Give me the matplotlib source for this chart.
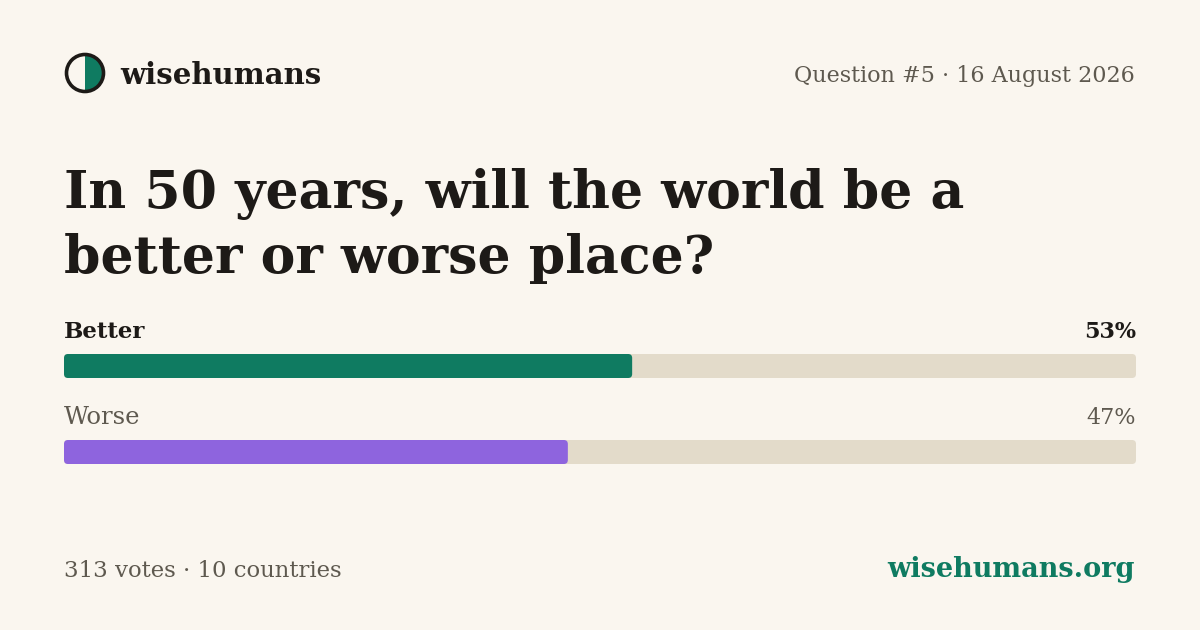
import matplotlib
matplotlib.use("Agg")
import matplotlib.pyplot as plt
from matplotlib.patches import FancyBboxPatch, Circle, Wedge

# ---- data ----
brand = "wisehumans"
meta = "Question #5 · 16 August 2026"
title_lines = ["In 50 years, will the world be a", "better or worse place?"]
options = ["Better", "Worse"]
percents = [53, 47]
footer_left = "313 votes · 10 countries"
footer_right = "wisehumans.org"

# ---- style ----
BG = "#FAF6EF"
DARK = "#1D1A17"
GRAY = "#5E594F"
GREEN = "#0F7B61"
PURPLE = "#8E64DE"
TRACK = "#E3DBCA"
SERIF = ["DejaVu Serif"]

W, H = 1200, 630
fig = plt.figure(figsize=(W / 100, H / 100), dpi=100, facecolor=BG)
bg = fig.add_axes([0, 0, 1, 1])
bg.set_xlim(0, W)
bg.set_ylim(H, 0)
bg.axis("off")
bg.set_facecolor(BG)

# logo
bg.add_patch(Wedge((85, 73), 18, -90, 90, facecolor=GREEN, edgecolor="none"))
bg.add_patch(Circle((85, 73), 18.5, facecolor="none", edgecolor=DARK, lw=2.6))
bg.text(120, 84, brand, family=SERIF, weight="bold", fontsize=21, color=DARK, va="baseline")
bg.text(1135, 82, meta, family=SERIF, fontsize=16, color=GRAY, va="baseline", ha="right")

# title
for i, line in enumerate(title_lines):
    bg.text(64, 208 + i * 65, line, family=SERIF, weight="bold", fontsize=37.5,
            color=DARK, va="baseline")

# bars
label_base = [338, 424]
bar_top = [354, 440]
bar_h = 24
left, width = 64, 1072
colors = [GREEN, PURPLE]
label_styles = [dict(weight="bold", color=DARK, fontsize=16.5),
                dict(weight="normal", color=GRAY, fontsize=17.5)]
for i, (opt, pct) in enumerate(zip(options, percents)):
    st = label_styles[i]
    bg.text(left, label_base[i], opt, family=SERIF, va="baseline", **st)
    bg.text(left + width, label_base[i], f"{pct}%", family=SERIF,
            va="baseline", ha="right", **{**st, "fontsize": 16})
    ax = fig.add_axes([left / W, (H - bar_top[i] - bar_h) / H, width / W, bar_h / H])
    ax.set_xlim(0, 100)
    ax.set_ylim(0, 1)
    ax.axis("off")
    r = 4 / (width / 100)
    asp = (4 / bar_h) / r
    ax.add_patch(FancyBboxPatch((0, 0), 100, 1, boxstyle=f"round,pad=0,rounding_size={r}",
                                mutation_aspect=asp, facecolor=TRACK, edgecolor="none"))
    ax.add_patch(FancyBboxPatch((0, 0), pct, 1, boxstyle=f"round,pad=0,rounding_size={r}",
                                mutation_aspect=asp, facecolor=colors[i], edgecolor="none"))

# footer
bg.text(64, 577, footer_left, family=SERIF, fontsize=16.4, color=GRAY, va="baseline")
bg.text(1135, 577, footer_right, family=SERIF, weight="bold", fontsize=19.5, color=GREEN,
        va="baseline", ha="right")

fig.savefig("out.png", dpi=100, facecolor=BG)
